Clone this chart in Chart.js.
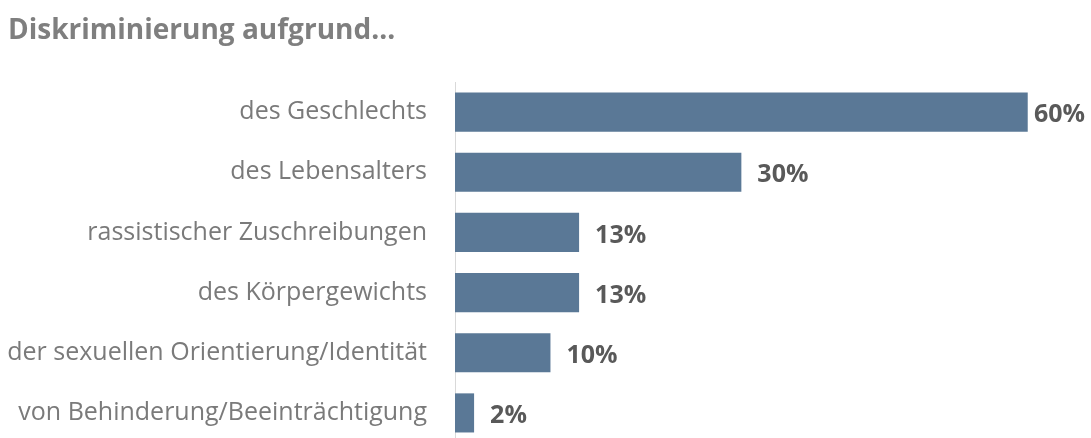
<!DOCTYPE html>
<html>
<head>
<meta charset="utf-8">
<script src="https://cdn.jsdelivr.net/npm/chart.js@4"></script>
<style>
  html, body { margin: 0; padding: 0; background: #fff; overflow: hidden; }
  #wrap { position: relative; width: 1091px; height: 443px; }
</style>
</head>
<body>
<div id="wrap"><canvas id="chart"></canvas></div>
<script>
let labels = [
  "des Geschlechts",
  "des Lebensalters",
  "rassistischer Zuschreibungen",
  "des Körpergewichts",
  "der sexuellen Orientierung/Identität",
  "von Behinderung/Beeinträchtigung"
];
let values = [60, 30, 13, 13, 10, 2];

let fontFamily = "'Open Sans', 'Noto Sans', sans-serif";

// draws the percent next to each bar, kept inside the canvas
let valueLabels = {
  id: "valueLabels",
  afterDatasetsDraw(chart) {
    let ctx = chart.ctx;
    let meta = chart.getDatasetMeta(0);
    ctx.save();
    ctx.font = "bold 25px " + fontFamily;
    ctx.fillStyle = "#595959";
    ctx.textAlign = "left";
    ctx.textBaseline = "middle";
    meta.data.forEach((bar, i) => {
      let text = values[i] + "%";
      let w = ctx.measureText(text).width;
      let x = Math.min(bar.x + 16, chart.width - w - 6);
      ctx.fillText(text, x, bar.y + 3);
    });
    ctx.restore();
  }
};

let ctx = document.getElementById("chart").getContext("2d");
let chart = new Chart(ctx, {
  type: "bar",
  data: {
    labels: labels,
    datasets: [
      {
        data: values,
        backgroundColor: "#5a7896",
        borderWidth: 0,
        barPercentage: 0.65,
        categoryPercentage: 1
      }
    ]
  },
  options: {
    indexAxis: "y",
    responsive: true,
    maintainAspectRatio: false,
    animation: false,
    layout: { padding: { left: 8, right: 6, top: 0, bottom: 0 } },
    plugins: {
      legend: { display: false },
      tooltip: { enabled: false },
      title: {
        display: true,
        text: "Diskriminierung aufgrund...",
        align: "start",
        color: "#7f7f7f",
        font: { family: fontFamily, size: 28, weight: "bold" },
        padding: { top: 14, bottom: 34.4 }
      }
    },
    scales: {
      x: {
        display: false,
        min: 0,
        max: 66
      },
      y: {
        grid: { display: false, drawTicks: false },
        border: { color: "#d9d9d9", width: 1 },
        ticks: {
          color: "#7a7a7a",
          padding: 28,
          font: { family: fontFamily, size: 25 }
        },
        afterFit(scale) {
          scale.width = 447;
          scale.paddingTop = 0;
          scale.paddingBottom = 0;
        }
      }
    }
  },
  plugins: [valueLabels]
});
</script>
</body>
</html>
